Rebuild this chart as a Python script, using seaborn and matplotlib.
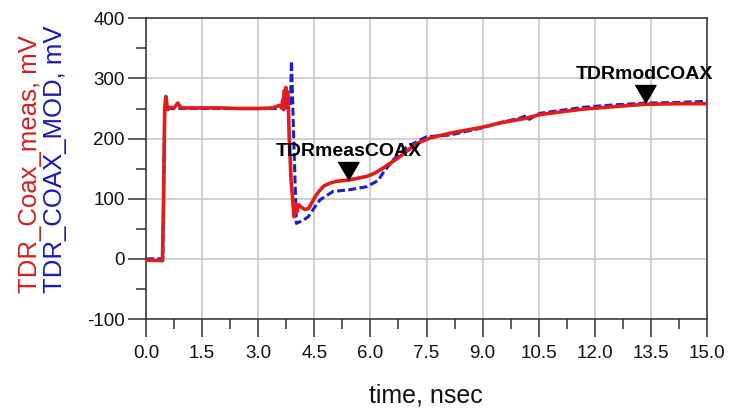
import numpy as np
import pandas as pd
import matplotlib
matplotlib.use("Agg")
import matplotlib.pyplot as plt
import seaborn as sns
from matplotlib.ticker import MultipleLocator, FormatStrFormatter

# ---- data ----
t_meas = [0.0, 0.44, 0.47, 0.50, 0.53, 0.58, 0.65, 0.75, 0.85, 0.92, 1.0, 1.5, 2.0,
          2.5, 3.0, 3.4, 3.55, 3.62, 3.66, 3.68, 3.70, 3.72, 3.74, 3.76, 3.78, 3.80,
          3.83, 3.88, 3.96, 3.99, 4.03, 4.08, 4.15, 4.25, 4.35, 4.43, 4.52, 4.62,
          4.75, 4.92, 5.1, 5.41, 5.9, 6.1, 6.34, 6.79, 7.24, 7.6, 8.13, 9.0, 9.47,
          10.18, 10.53, 11.69, 12.5, 13.34, 14.2, 15.0]
v_meas = [-2, -3, 100, 250, 270, 248, 252, 251, 259, 252, 251, 251, 251,
          250, 250, 251, 255, 252, 265, 248, 280, 255, 285, 260, 278, 270,
          200, 130, 70, 92, 78, 90, 86, 82, 84, 93, 103, 112,
          121, 126, 129, 131, 137, 142, 151, 170, 192, 201, 209, 219, 226,
          234, 240, 249, 253, 257, 258, 258]

t_mod = [0.0, 0.45, 0.50, 0.55, 1.0, 2.0, 3.0, 3.5, 3.8, 3.86, 3.89, 3.95, 4.02,
         4.2, 4.34, 4.5, 4.65, 5.0, 5.45, 5.9, 6.2, 6.34, 6.6, 6.97, 7.5, 8.13,
         9.0, 9.5, 10.0, 10.18, 10.25, 10.4, 10.53, 11.69, 12.5, 13.34, 14.2, 15.0]
v_mod = [0, 0, 250, 250, 250, 250, 250, 250, 252, 258, 329, 200, 59,
         64, 70, 85, 98, 112, 115, 120, 130, 143, 164, 186, 203, 206,
         218, 227, 234, 238, 232, 238, 242, 252, 256, 259, 260, 262]

marker_names = ["TDRmeasCOAX", "TDRmodCOAX"]
marker_t = [5.41, 13.34]
marker_v = [131, 258.6]

x_ticks = [0.0, 1.5, 3.0, 4.5, 6.0, 7.5, 9.0, 10.5, 12.0, 13.5, 15.0]
y_ticks = [-100, 0, 100, 200, 300, 400]

df_meas = pd.DataFrame({"time": t_meas, "mV": v_meas})
df_mod = pd.DataFrame({"time": t_mod, "mV": v_mod})

sns.set_style("white")
plt.rcParams["font.family"] = ["Liberation Sans", "DejaVu Sans"]
plt.rcParams["axes.unicode_minus"] = False

W, H = 740, 409
fig = plt.figure(figsize=(W / 100, H / 100), dpi=100)
ax = fig.add_axes([146 / W, 1 - 319 / H, (707 - 146) / W, (319 - 18.3) / H])

RED = "#e41b1b"
BLUE = "#1c1cd0"

sns.lineplot(data=df_mod, x="time", y="mV", ax=ax, color=BLUE, lw=2.2,
             linestyle=(0, (2.6, 1.1)), sort=False, estimator=None, zorder=3)
sns.lineplot(data=df_meas, x="time", y="mV", ax=ax, color=RED, lw=2.6,
             sort=False, estimator=None, zorder=4)

tri = [(-0.583, 1.0), (0.583, 1.0), (0.0, 0.0)]
for name, mt, mv in zip(marker_names, marker_t, marker_v):
    ax.plot([mt], [mv], marker=tri, markersize=25.9, color="black",
            linestyle="none", zorder=6, clip_on=False)
    ax.annotate(name, (mt, mv), xytext=(0, 17.5), textcoords="offset points",
                ha="center", va="baseline", fontsize=14, fontweight="bold",
                color="black", zorder=7, annotation_clip=False)

ax.set_xlim(0, 15)
ax.set_ylim(-100, 400)
ax.set_xticks(x_ticks)
ax.set_yticks(y_ticks)
ax.xaxis.set_major_formatter(FormatStrFormatter("%.1f"))
ax.xaxis.set_minor_locator(MultipleLocator(0.75))
ax.yaxis.set_minor_locator(MultipleLocator(50))
ax.grid(True, which="major", color="#c4c4c4", lw=1.1)
ax.grid(False, which="minor")
ax.set_axisbelow(True)
for s in ax.spines.values():
    s.set_color("#303030")
    s.set_linewidth(1.1)
ax.tick_params(axis="both", which="both", bottom=True, left=True,
               top=False, right=False, direction="out")
ax.tick_params(axis="both", which="major", length=13,
               width=1.1, color="#303030", labelsize=13.5, labelcolor="#111111")
ax.tick_params(axis="both", which="minor", length=7.2,
               width=1.1, color="#303030")
ax.tick_params(axis="x", which="major", pad=5.5)
ax.tick_params(axis="y", which="major", pad=2.2)
ax.set_xlabel("")
ax.set_ylabel("")

fig.text(426 / W, 1 - 403 / H, "time, nsec", ha="center", va="baseline",
         fontsize=18, color="#111111")
fig.text(37 / W, 1 - 293 / H, "TDR_Coax_meas, mV", rotation=90,
         rotation_mode="anchor", ha="left", va="baseline", fontsize=18.5,
         color="#d61f1f")
fig.text(62 / W, 1 - 293 / H, "TDR_COAX_MOD, mV", rotation=90,
         rotation_mode="anchor", ha="left", va="baseline", fontsize=18.5,
         color="#1a1ab0")

fig.savefig("out.png", dpi=100)
